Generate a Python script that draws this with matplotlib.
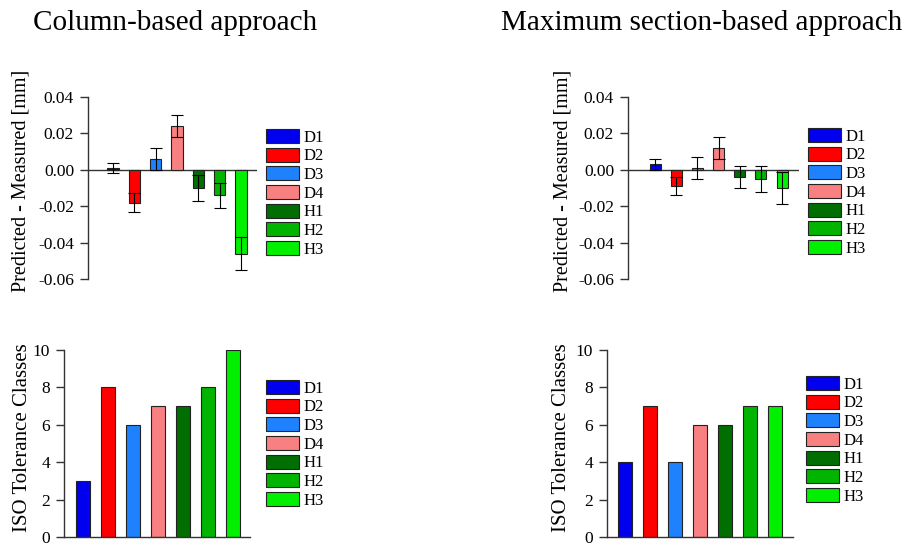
import matplotlib.pyplot as plt
from matplotlib.patches import Patch

plt.rcParams['font.family'] = ['Liberation Serif', 'DejaVu Serif']

labels = ['D1', 'D2', 'D3', 'D4', 'H1', 'H2', 'H3']
colors = ['#0000EE', '#FF0000', '#1E82FF', '#F88080', '#006E00', '#00B400', '#00F000']

# predicted - measured [mm], mean and error
col_diff = [0.001, -0.018, 0.006, 0.024, -0.010, -0.014, -0.046]
col_err = [0.003, 0.005, 0.006, 0.006, 0.007, 0.007, 0.009]
max_diff = [0.003, -0.009, 0.001, 0.012, -0.004, -0.005, -0.010]
max_err = [0.003, 0.005, 0.006, 0.006, 0.006, 0.007, 0.009]

# ISO tolerance classes
col_iso = [3, 8, 6, 7, 7, 8, 10]
max_iso = [4, 7, 4, 6, 6, 7, 7]

W, H = 909, 548
fig = plt.figure(figsize=(W / 100, H / 100), dpi=100)


def ax_px(x0, x1, ytop, ybot):
    return fig.add_axes([x0 / W, 1 - ybot / H, (x1 - x0) / W, (ybot - ytop) / H])


def style(ax, tsize):
    for s in ['top', 'right', 'bottom']:
        ax.spines[s].set_visible(False)
    ax.spines['left'].set_color('#333333')
    ax.spines['left'].set_linewidth(1.0)
    ax.tick_params(axis='y', direction='out', length=6, width=1.0, color='#333333',
                   labelsize=tsize, pad=4)
    ax.set_xticks([])
    ax.patch.set_visible(False)


def add_legend(x, y):
    handles = [Patch(facecolor=c, edgecolor='#222222', linewidth=0.8) for c in colors]
    fig.legend(handles, labels, loc='upper left', bbox_to_anchor=(x / W, 1 - y / H),
               bbox_transform=fig.transFigure, frameon=False, fontsize=12,
               borderpad=0, borderaxespad=0, handlelength=1.95, handleheight=0.9,
               handletextpad=0.3, labelspacing=0.12)


def diff_panel(ax, vals, errs, xlim, lab_x):
    pos = range(len(vals))
    ax.bar(pos, vals, width=0.52, color=colors, edgecolor='#222222', linewidth=0.8,
           yerr=errs, error_kw=dict(ecolor='black', elinewidth=0.8, capsize=4, capthick=0.8),
           zorder=2)
    ax.axhline(0, color='#333333', lw=1.0, zorder=1)
    ax.set_xlim(*xlim)
    ax.set_ylim(-0.06, 0.04)
    ticks = [-0.06, -0.04, -0.02, 0.00, 0.02, 0.04]
    ax.set_yticks(ticks)
    ax.set_yticklabels(['%.2f' % v for v in ticks])
    style(ax, 12.5)
    ax.set_ylabel('Predicted - Measured [mm]', fontsize=14.5, va='center')
    ax.yaxis.set_label_coords(lab_x, 0.538)


def iso_panel(ax, vals, xlim, lab_x):
    pos = range(len(vals))
    ax.bar(pos, vals, width=0.56, color=colors, edgecolor='#222222', linewidth=0.8, zorder=2)
    ax.set_xlim(*xlim)
    ax.set_ylim(0, 10)
    ax.set_yticks([0, 2, 4, 6, 8, 10])
    style(ax, 12.5)
    ax.spines['bottom'].set_visible(True)
    ax.spines['bottom'].set_color('#333333')
    ax.spines['bottom'].set_linewidth(1.0)
    ax.set_ylabel('ISO Tolerance Classes', fontsize=15, va='center')
    ax.yaxis.set_label_coords(lab_x, 0.53)


ax1 = ax_px(88, 257, 97, 279)
diff_panel(ax1, col_diff, col_err, (-1.17, 6.75), -0.396)
add_legend(266, 129)

ax2 = ax_px(628, 799, 97, 279)
diff_panel(ax2, max_diff, max_err, (-1.28, 6.8), -0.38)
add_legend(808, 128)

ax3 = ax_px(64, 250, 350, 537)
iso_panel(ax3, col_iso, (-0.76, 6.68), -0.225)
add_legend(266, 380)

ax4 = ax_px(607, 793, 350, 537)
iso_panel(ax4, max_iso, (-0.72, 6.72), -0.245)
add_legend(806, 376)

fig.text(175 / W, 1 - 30 / H, 'Column-based approach', fontsize=21, ha='center', va='baseline')
fig.text(702 / W, 1 - 30 / H, 'Maximum section-based approach', fontsize=21, ha='center', va='baseline')

fig.savefig('out.png', dpi=100)
